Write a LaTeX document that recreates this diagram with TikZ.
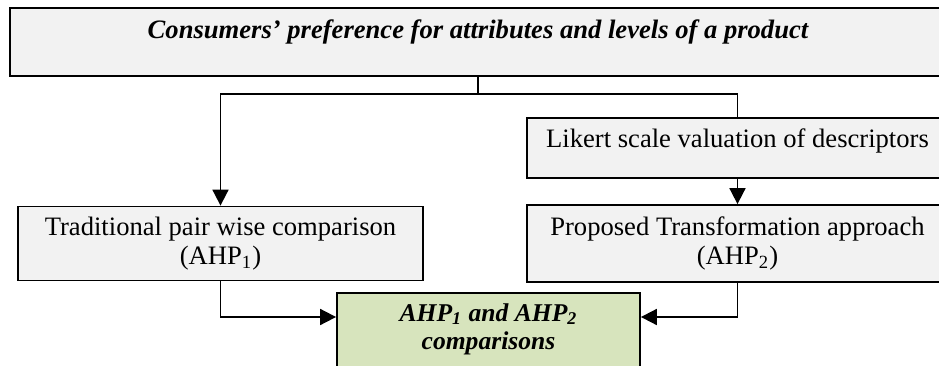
\documentclass[tikz,border=0pt]{standalone}
\usepackage{fontspec}
\setmainfont{Liberation Serif}
\usetikzlibrary{calc, arrows.meta}
\definecolor{boxgray}{HTML}{F2F2F2}
\definecolor{boxgreen}{HTML}{D7E4BD}

\begin{document}
\begin{tikzpicture}[
        x=0.5pt, y=-0.5pt,
        box/.style={draw=black, line width=0.9pt, fill=boxgray, inner sep=0pt, align=center, font=\fontsize{13.3}{14.5}\selectfont},
        greenbox/.style={draw=black, line width=0.9pt, fill=boxgreen, inner sep=0pt},
        flow/.style={line width=0.9pt, -{Triangle[length=8pt, width=8pt]}},
        link/.style={line width=0.9pt},
        ]

    \useasboundingbox (0,0) rectangle (939,365);
    \clip (0,0) rectangle (939,365);

    \node (pref) at (478,7) [box, anchor=north, minimum width=468pt, text height=15.5pt, text depth=18.5pt, font=\fontsize{13.3}{14.5}\selectfont\bfseries\itshape] {Consumers’ preference for attributes and levels of a product};

    \node (likert) at (737.5,117) [box, anchor=north, minimum width=210.5pt, text height=15pt, text depth=15pt] {Likert scale valuation of descriptors};
    \node (proposed) at (737.5,243.5) [box, minimum width=210.5pt, minimum height=38.5pt] {Proposed Transformation approach\\(AHP\textsubscript{2})};
    \node (trad) at (220.5,243.5) [box, minimum width=202.5pt, minimum height=37pt] {Traditional pair wise comparison\\(AHP\textsubscript{1})};

    \node (comp) at (488.5,292) [greenbox, anchor=north, minimum width=151.5pt, minimum height=50pt] {};
    \node (compLabel) at (488.5,329) [align=center, font=\fontsize{12.8}{14}\selectfont\bfseries\itshape] {AHP\textsubscript{1} and AHP\textsubscript{2}\\comparisons};

    \coordinate (split) at ($(pref.south)+(0,17)$);
    \draw [link] (pref.south) -- (split);
    \draw [flow] (split) -| (trad.north);
    \draw [link] (split) -| (likert.north);
    \draw [flow] (likert.south) -- (proposed.north);

    \draw [flow] (trad.south) |- ($(comp.north west)+(0,25)$);
    \draw [flow] (proposed.south) |- ($(comp.north east)+(0,25)$);
\end{tikzpicture}
\end{document}
